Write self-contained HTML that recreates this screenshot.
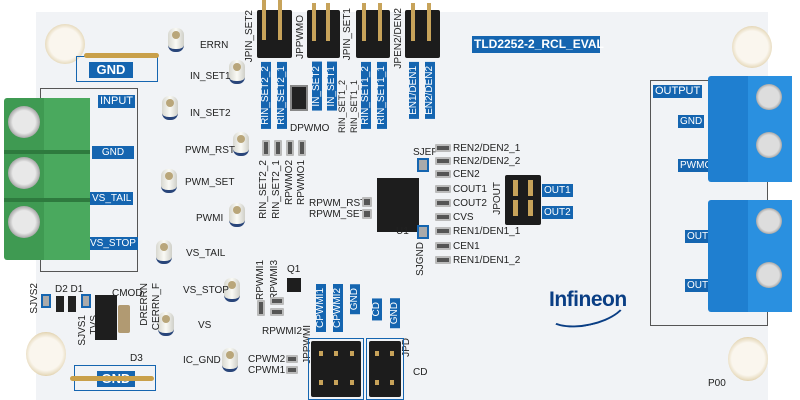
<!DOCTYPE html>
<html><head><meta charset="utf-8"><style>
*{margin:0;padding:0;box-sizing:border-box}
body{width:800px;height:400px;overflow:hidden;background:#fff;position:relative;font-family:"Liberation Sans",Arial,sans-serif}
.a{position:absolute}
.board{left:36px;top:12px;width:732px;height:388px;background:#f1f3f6}
.lbl{position:absolute;background:#1565b0;color:#fff;font-size:10px;line-height:13px;padding:0 2px;white-space:nowrap}
.t{position:absolute;font-size:10px;color:#222;white-space:nowrap;line-height:11px}
.tp{position:absolute;width:16px;height:24px;background:linear-gradient(90deg,#d8d8d0,#fafaf5 50%,#cfcfc8);border-radius:7px;border-bottom:3px solid #29457a}
.tp:after{content:"";position:absolute;left:4px;top:3px;width:8px;height:8px;border-radius:50%;background:#b9a67a}
.so{position:absolute;border-radius:50%;background:radial-gradient(circle,#faf6ee 0 55%,#e8dcc0 70%,#c9a560 85%,#e3d3b0 100%)}
.hdr{position:absolute;background:#1c1c1c;border-radius:2px}
.pin{position:absolute;width:4px;background:#c7a35a}
.vl{position:absolute;background:#1565b0;color:#fff;font-size:10px;writing-mode:vertical-rl;transform:rotate(180deg);padding:4px 0;line-height:10px;white-space:nowrap}
.vt{position:absolute;font-size:10px;writing-mode:vertical-rl;transform:rotate(180deg);white-space:nowrap;color:#222;line-height:10px}
.pad{position:absolute;width:16px;height:8px;background:#555;border:2px solid #bbb;border-radius:1px}
</style></head><body>
<div class="a board"></div>

<div class="so" style="left:45px;top:24px;width:40px;height:40px"></div>
<div class="so" style="left:732px;top:26px;width:40px;height:42px"></div>
<div class="so" style="left:26px;top:332px;width:40px;height:44px"></div>
<div class="so" style="left:728px;top:337px;width:40px;height:44px"></div>

<div class="a" style="left:76px;top:56px;width:82px;height:26px;border:1px solid #1565b0"></div>
<div class="lbl" style="left:89px;top:62px;font-size:13px;line-height:16px;font-weight:bold;width:44px;text-align:center">GND</div>
<div class="a" style="left:84px;top:53px;width:75px;height:5px;background:#c9a04a;border-radius:3px"></div>

<div class="a" style="left:40px;top:88px;width:98px;height:184px;border:1.5px solid #555"></div>
<div class="lbl" style="left:98px;top:95px;font-size:11px">INPUT</div>
<div class="lbl" style="left:92px;top:146px;width:42px;text-align:center">GND</div>
<div class="lbl" style="left:90px;top:192px">VS_TAIL</div>
<div class="lbl" style="left:88px;top:237px">VS_STOP</div>
<div class="a" style="left:4px;top:98px;width:86px;height:162px;background:#3f9a52;border-radius:3px"></div>
<div class="a" style="left:44px;top:98px;width:46px;height:162px;background:#4aa95e"></div>
<div class="a" style="left:4px;top:150px;width:86px;height:4px;background:#2e7a3e"></div>
<div class="a" style="left:4px;top:198px;width:86px;height:4px;background:#2e7a3e"></div>
<div class="so" style="left:8px;top:106px;width:32px;height:32px;background:radial-gradient(circle,#e8e8e8 0 50%,#999 75%,#3a7a44 100%)"></div>
<div class="so" style="left:8px;top:157px;width:32px;height:32px;background:radial-gradient(circle,#e8e8e8 0 50%,#999 75%,#3a7a44 100%)"></div>
<div class="so" style="left:8px;top:206px;width:32px;height:32px;background:radial-gradient(circle,#e8e8e8 0 50%,#999 75%,#3a7a44 100%)"></div>

<div class="tp" style="left:168px;top:28px"></div><div class="t" style="left:200px;top:40px">ERRN</div>
<div class="tp" style="left:229px;top:60px"></div><div class="t" style="left:190px;top:71px">IN_SET1</div>
<div class="tp" style="left:162px;top:96px"></div><div class="t" style="left:190px;top:108px">IN_SET2</div>
<div class="tp" style="left:233px;top:132px"></div><div class="t" style="left:185px;top:145px">PWM_RST</div>
<div class="tp" style="left:161px;top:169px"></div><div class="t" style="left:185px;top:177px">PWM_SET</div>
<div class="tp" style="left:229px;top:203px"></div><div class="t" style="left:196px;top:213px">PWMI</div>
<div class="tp" style="left:156px;top:240px"></div><div class="t" style="left:186px;top:248px">VS_TAIL</div>
<div class="tp" style="left:224px;top:278px"></div><div class="t" style="left:183px;top:285px">VS_STOP</div>
<div class="tp" style="left:158px;top:312px"></div><div class="t" style="left:198px;top:320px">VS</div>
<div class="tp" style="left:222px;top:348px"></div><div class="t" style="left:183px;top:355px">IC_GND</div>

<div class="hdr" style="left:257px;top:10px;width:35px;height:48px"></div>
<div class="hdr" style="left:307px;top:10px;width:33px;height:48px"></div>
<div class="hdr" style="left:356px;top:10px;width:34px;height:48px"></div>
<div class="hdr" style="left:405px;top:10px;width:35px;height:48px"></div>
<div class="pin" style="left:262px;top:0;height:40px"></div><div class="pin" style="left:278px;top:0;height:40px"></div>
<div class="pin" style="left:312px;top:3px;height:38px"></div><div class="pin" style="left:326px;top:3px;height:38px"></div>
<div class="pin" style="left:362px;top:3px;height:38px"></div><div class="pin" style="left:378px;top:3px;height:38px"></div>
<div class="pin" style="left:411px;top:3px;height:38px"></div><div class="pin" style="left:427px;top:3px;height:38px"></div>
<div class="vt" style="left:245px;top:10px">JPIN_SET2</div>
<div class="vt" style="left:296px;top:15px">JPPWMO</div>
<div class="vt" style="left:343px;top:8px">JPIN_SET1</div>
<div class="vt" style="left:394px;top:8px">JPEN2/DEN2</div>
<div class="vl" style="left:261px;top:62px">RIN_SET2_2</div>
<div class="vl" style="left:277px;top:62px">RIN_SET2_1</div>
<div class="vl" style="left:312px;top:62px">IN_SET2</div>
<div class="vl" style="left:327px;top:62px">IN_SET1</div>
<div class="vl" style="left:361px;top:62px">RIN_SET1_2</div>
<div class="vl" style="left:377px;top:62px">RIN_SET1_1</div>
<div class="vl" style="left:409px;top:62px">EN1/DEN1</div>
<div class="vl" style="left:425px;top:62px">EN2/DEN2</div>
<div class="a" style="left:290px;top:85px;width:18px;height:26px;background:#222;border:2px solid #888"></div>
<div class="t" style="left:290px;top:123px">DPWMO</div>
<div class="vt" style="left:337px;top:80px;font-size:9px">RIN_SET1_2</div>
<div class="vt" style="left:349px;top:80px;font-size:9px">RIN_SET1_1</div>
<div class="pad" style="left:262px;top:140px;width:8px;height:16px"></div>
<div class="pad" style="left:274px;top:140px;width:8px;height:16px"></div>
<div class="pad" style="left:286px;top:140px;width:8px;height:16px"></div>
<div class="pad" style="left:298px;top:140px;width:8px;height:16px"></div>
<div class="vt" style="left:259px;top:160px">RIN_SET2_2</div>
<div class="vt" style="left:272px;top:160px">RIN_SET2_1</div>
<div class="vt" style="left:285px;top:160px">RPWMO2</div>
<div class="vt" style="left:297px;top:160px">RPWMO1</div>
<div class="t" style="left:309px;top:198px">RPWM_RST<br>RPWM_SET</div>
<div class="pad" style="left:362px;top:197px;width:10px;height:10px"></div>
<div class="pad" style="left:362px;top:209px;width:10px;height:10px"></div>

<div class="a" style="left:377px;top:178px;width:42px;height:54px;background:#1d1d1d"></div>
<div class="t" style="left:396px;top:226px">U1</div>
<div class="t" style="left:413px;top:147px">SJEP</div>
<div class="a" style="left:417px;top:158px;width:12px;height:14px;border:2px solid #1565b0;background:#aaa"></div>
<div class="a" style="left:417px;top:225px;width:12px;height:14px;border:2px solid #1565b0;background:#aaa"></div>
<div class="vt" style="left:416px;top:242px">SJGND</div>

<div class="pad" style="left:435px;top:144px"></div><div class="t" style="left:453px;top:143px">REN2/DEN2_1</div>
<div class="pad" style="left:435px;top:157px"></div><div class="t" style="left:453px;top:156px">REN2/DEN2_2</div>
<div class="pad" style="left:435px;top:170px"></div><div class="t" style="left:453px;top:169px">CEN2</div>
<div class="pad" style="left:435px;top:185px"></div><div class="t" style="left:453px;top:184px">COUT1</div>
<div class="pad" style="left:435px;top:199px"></div><div class="t" style="left:453px;top:198px">COUT2</div>
<div class="pad" style="left:435px;top:213px"></div><div class="t" style="left:453px;top:212px">CVS</div>
<div class="pad" style="left:435px;top:227px"></div><div class="t" style="left:453px;top:226px">REN1/DEN1_1</div>
<div class="pad" style="left:435px;top:242px"></div><div class="t" style="left:453px;top:241px">CEN1</div>
<div class="pad" style="left:435px;top:256px"></div><div class="t" style="left:453px;top:255px">REN1/DEN1_2</div>

<div class="lbl" style="left:472px;top:36px;width:128px;height:17px;font-size:12px;line-height:17px;font-weight:bold">TLD2252-2_RCL_EVAL</div>

<div class="hdr" style="left:505px;top:175px;width:36px;height:50px"></div>
<div class="pin" style="left:513px;top:180px;height:16px;width:5px"></div><div class="pin" style="left:528px;top:180px;height:16px;width:5px"></div>
<div class="pin" style="left:513px;top:200px;height:16px;width:5px"></div><div class="pin" style="left:528px;top:200px;height:16px;width:5px"></div>
<div class="vt" style="left:493px;top:182px">JPOUT</div>
<div class="lbl" style="left:542px;top:184px">OUT1</div>
<div class="lbl" style="left:542px;top:206px">OUT2</div>

<div class="a" style="left:549px;top:288px;font-size:21px;color:#0a3e84;font-weight:bold;letter-spacing:-0.5px">Infineon</div>
<div class="a" style="left:544px;top:286px;width:84px;height:40px;border:2.5px solid #0a3e84;border-radius:50%;border-top-color:transparent;border-right-color:transparent;border-left-color:transparent;transform:rotate(-12deg)"></div>

<div class="a" style="left:650px;top:80px;width:118px;height:246px;border:1.5px solid #555"></div>
<div class="lbl" style="left:653px;top:85px;font-size:11px">OUTPUT</div>
<div class="lbl" style="left:678px;top:115px">GND</div>
<div class="lbl" style="left:678px;top:159px">PWMO</div>
<div class="lbl" style="left:685px;top:230px">OUT1</div>
<div class="lbl" style="left:685px;top:279px">OUT2</div>
<div class="a" style="left:708px;top:76px;width:84px;height:106px;background:#1f7fd0;border-radius:3px"></div>
<div class="a" style="left:708px;top:200px;width:84px;height:112px;background:#1f7fd0;border-radius:3px"></div>
<div class="a" style="left:748px;top:76px;width:44px;height:106px;background:#2a90e0"></div>
<div class="a" style="left:748px;top:200px;width:44px;height:112px;background:#2a90e0"></div>
<div class="so" style="left:756px;top:84px;width:26px;height:26px;background:radial-gradient(circle,#ddd 0 55%,#888 80%,#1f7fd0 100%)"></div>
<div class="so" style="left:756px;top:132px;width:26px;height:26px;background:radial-gradient(circle,#ddd 0 55%,#888 80%,#1f7fd0 100%)"></div>
<div class="so" style="left:756px;top:208px;width:26px;height:26px;background:radial-gradient(circle,#ddd 0 55%,#888 80%,#1f7fd0 100%)"></div>
<div class="so" style="left:756px;top:262px;width:26px;height:26px;background:radial-gradient(circle,#ddd 0 55%,#888 80%,#1f7fd0 100%)"></div>
<div class="t" style="left:708px;top:378px">P00</div>

<div class="vt" style="left:30px;top:283px">SJVS2</div>
<div class="a" style="left:41px;top:294px;width:10px;height:14px;border:2px solid #1565b0;background:#aaa"></div>
<div class="t" style="left:55px;top:284px">D2 D1</div>
<div class="a" style="left:56px;top:296px;width:8px;height:16px;background:#222"></div>
<div class="a" style="left:68px;top:296px;width:8px;height:16px;background:#222"></div>
<div class="a" style="left:81px;top:294px;width:10px;height:14px;border:2px solid #1565b0;background:#aaa"></div>
<div class="vt" style="left:78px;top:315px">SJVS1</div><div class="vt" style="left:90px;top:315px">TVS</div>
<div class="a" style="left:95px;top:295px;width:22px;height:45px;background:#1e1e1e"></div>
<div class="t" style="left:112px;top:288px">CMOD</div>
<div class="a" style="left:118px;top:305px;width:12px;height:28px;background:#b19a72;border-radius:2px"></div>
<div class="vt" style="left:140px;top:283px">DRERRN</div><div class="vt" style="left:152px;top:283px">CERRN_F</div>
<div class="t" style="left:130px;top:353px">D3</div>
<div class="a" style="left:74px;top:365px;width:82px;height:26px;border:1px solid #1565b0"></div>
<div class="lbl" style="left:97px;top:371px;font-size:13px;line-height:16px;font-weight:bold;width:38px;text-align:center">GND</div>
<div class="a" style="left:70px;top:376px;width:84px;height:5px;background:#c9a04a;border-radius:3px"></div>

<div class="vt" style="left:256px;top:260px">RPWMI1</div>
<div class="vt" style="left:270px;top:260px">RPWMI3</div>
<div class="t" style="left:287px;top:264px">Q1</div>
<div class="a" style="left:287px;top:278px;width:14px;height:14px;background:#1e1e1e"></div>
<div class="pad" style="left:257px;top:300px;width:8px;height:16px"></div>
<div class="pad" style="left:270px;top:297px;width:14px;height:8px"></div>
<div class="pad" style="left:270px;top:308px;width:14px;height:8px"></div>
<div class="t" style="left:262px;top:326px">RPWMI2</div>
<div class="t" style="left:248px;top:354px">CPWM2<br>CPWM1</div>
<div class="pad" style="left:286px;top:355px;width:12px;height:8px"></div>
<div class="pad" style="left:286px;top:366px;width:12px;height:8px"></div>
<div class="vl" style="left:316px;top:284px">CPWMI1</div>
<div class="vl" style="left:333px;top:284px">CPWMI2</div>
<div class="vl" style="left:350px;top:284px">GND</div>
<div class="vl" style="left:372px;top:298px">CD</div>
<div class="vl" style="left:390px;top:298px">GND</div>
<div class="vt" style="left:303px;top:325px">JPPWMI</div>
<div class="vt" style="left:402px;top:338px">JPD</div>
<div class="t" style="left:413px;top:367px">CD</div>
<div class="a" style="left:308px;top:338px;width:56px;height:62px;border:1.5px solid #1565b0"></div>
<div class="hdr" style="left:311px;top:341px;width:50px;height:56px"></div>
<div class="a" style="left:366px;top:338px;width:38px;height:62px;border:1.5px solid #1565b0"></div>
<div class="hdr" style="left:369px;top:341px;width:32px;height:56px"></div>
<div class="pin" style="left:319px;top:351px;height:5px"></div><div class="pin" style="left:334px;top:351px;height:5px"></div><div class="pin" style="left:350px;top:351px;height:5px"></div>
<div class="pin" style="left:319px;top:380px;height:5px"></div><div class="pin" style="left:334px;top:380px;height:5px"></div><div class="pin" style="left:350px;top:380px;height:5px"></div>
<div class="pin" style="left:375px;top:351px;height:5px"></div><div class="pin" style="left:390px;top:351px;height:5px"></div>
<div class="pin" style="left:375px;top:380px;height:5px"></div><div class="pin" style="left:390px;top:380px;height:5px"></div>
</body></html>
